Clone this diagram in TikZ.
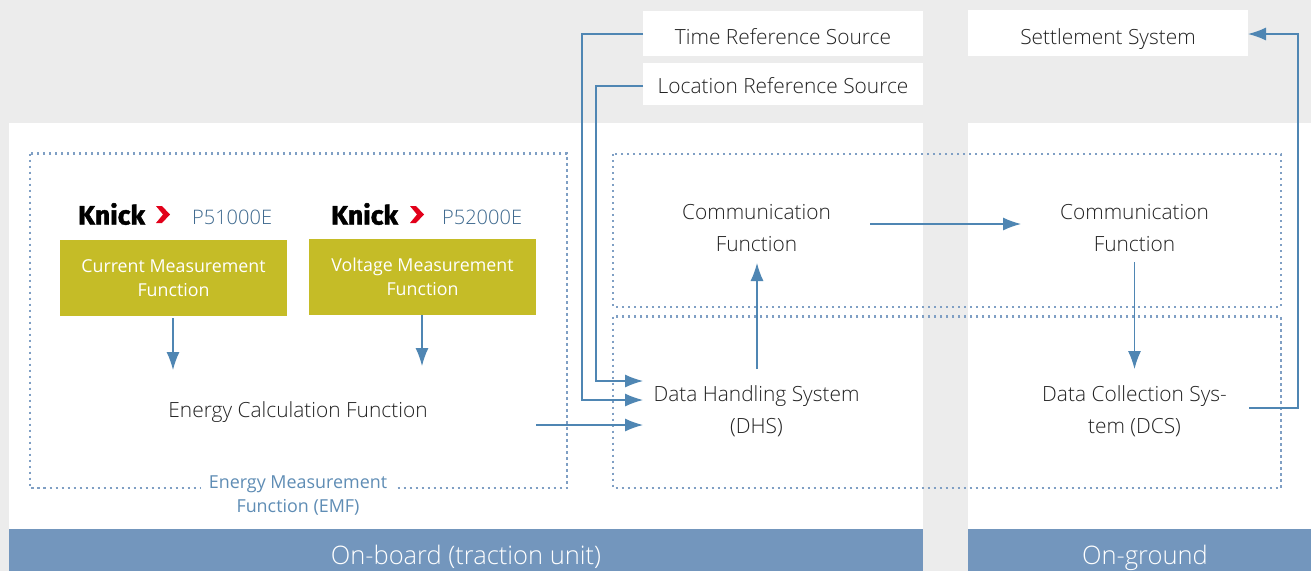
\documentclass[tikz,border=0pt]{standalone}
\usepackage{fontspec}
\setmainfont{Open Sans}[UprightFont=* Light,BoldFont=* Bold]
\newfontfamily\regfont{Open Sans}
\newfontfamily\logofont{Fira Sans Bold}[FakeBold=1.6]
\usetikzlibrary{arrows.meta}
\definecolor{bgc}{HTML}{ECECEC}
\definecolor{barc}{HTML}{7396BD}
\definecolor{linec}{HTML}{4F86B3}
\definecolor{dotc}{HTML}{7F9FC4}
\definecolor{yel}{HTML}{C5BC27}
\definecolor{ink}{HTML}{222222}
\definecolor{labelc}{HTML}{5F8DB5}
\definecolor{pnc}{HTML}{3F6A8F}
\definecolor{logored}{HTML}{E2001A}
\newcommand{\lowered}[2]{\raisebox{-#1pt}[0pt][0pt]{#2}}
\tikzset{
  x=1pt,y=-1pt,
  whitebox/.style={fill=white,anchor=north west,inner sep=0pt,outer sep=0pt},
  topbox/.style={whitebox,minimum width=280pt,text=ink,font=\fontsize{20.9}{24}\selectfont},
  yellowbox/.style={fill=yel,text=white,anchor=north west,inner sep=0pt,outer sep=0pt,minimum width=227pt,minimum height=76pt,align=center,font=\fontsize{17.8}{24}\selectfont\regfont},
  barbox/.style={fill=barc,text=white,anchor=north west,inner sep=0pt,outer sep=0pt,minimum height=42pt,font=\fontsize{25.5}{30}\selectfont},
  label/.style={text=ink,align=center,inner sep=0pt,font=\fontsize{20.9}{32}\selectfont},
  dotbox/.style={draw=dotc,line width=2.6pt,dash pattern=on 2.4pt off 3.6pt},
  conn/.style={draw=linec,line width=1.2pt,-{Latex[length=18pt,width=13pt]}},
  pn/.style={text=pnc,inner sep=0pt,font=\fontsize{20}{22}\selectfont},
  logo/.style={text=black,inner sep=0pt,font=\fontsize{26.5}{28}\logofont},
}
\begin{document}
\begin{tikzpicture}
\useasboundingbox (0,0) rectangle (1311,571);
\fill[bgc] (0,0) rectangle (1311,571);
% panels
\node[whitebox,minimum width=914pt,minimum height=406pt] (onpanel) at (9,123) {};
\node[whitebox,minimum width=343pt,minimum height=406pt] (gndpanel) at (968,123) {};
\node[barbox,minimum width=914pt] (onbar) at (9,529) {\lowered{14}{On-board (traction unit)}};
\node[barbox,minimum width=343pt] (gndbar) at (968,529) {\hspace*{11pt}\lowered{14}{On-ground}};
% top boxes
\node[topbox,minimum height=45pt] (time) at (643,11) {\lowered{10.5}{Time Reference Source}};
\node[topbox,minimum height=42pt] (loc) at (643,63) {\lowered{9}{Location Reference Source}};
\node[topbox,minimum height=46pt] (settle) at (968,10) {\lowered{11}{Settlement System}};
% dotted frames
\draw[dotbox] (30,153.5) rectangle (567,488);
\draw[dotbox] (613,154) rectangle (1281,307);
\draw[dotbox] (613,316.5) rectangle (1281,488);
\node[fill=white,inner sep=0pt,minimum width=194pt,minimum height=6pt] (gap) at (298,488) {};
\node[text=labelc,align=center,inner sep=0pt,font=\fontsize{17.9}{24}\selectfont\regfont] (emf) at (298,496) {Energy Measurement\\Function (EMF)};
% logos
\node[logo,anchor=west] (k1) at (78,214) {Knick};
\node[logo,anchor=west] (k2) at (331,214) {Knick};
\fill[logored] (156,206) -- (162,206) -- (170,214.5) -- (162,223) -- (156,223) -- (163,214.5) -- cycle;
\fill[logored] (410,206) -- (416,206) -- (424,214.5) -- (416,223) -- (410,223) -- (417,214.5) -- cycle;
\node[pn,anchor=west] (p1) at (192,217) {P51000E};
\node[pn,anchor=west] (p2) at (442,217) {P52000E};
% yellow
\node[yellowbox] (cur) at (60,240) {Current Measurement\\Function};
\node[yellowbox] (vol) at (309,239) {Voltage Measurement\\Function};
% text nodes
\node[label] (energy) at (298,412) {Energy Calculation Function};
\node[label] (c1) at (756.5,228) {Communication\\Function};
\node[label] (c2) at (1134.5,228) {Communication\\Function};
\node[label] (dhs) at (756.5,411) {Data Handling System\\(DHS)};
\node[label] (dcs) at (1134.5,411) {Data Collection Sys-\\tem (DCS)};
% connector ends
\coordinate (a0) at (173,318);
\coordinate (a1) at (173,370);
\coordinate (v0) at (422,315);
\coordinate (a2) at (422,366);
\coordinate (b0) at (536,425);
\coordinate (b1) at (643,425);
\coordinate (d1) at (643,400);
\coordinate (d2) at (643,381);
\coordinate (e0) at (757,369);
\coordinate (e1) at (757,263);
\coordinate (f0) at (870,224);
\coordinate (f1) at (1021,224);
\coordinate (g0) at (1134.5,262);
\coordinate (g1) at (1134.5,369);
\coordinate (h0) at (1249,408);
\coordinate (h1) at (1298,408);
\coordinate (h2) at (1298,34);
\coordinate (t0) at (582,34);
\coordinate (l0) at (596,86);
% connectors
\draw[conn] (a0) -- (a1);
\draw[conn] (v0) -- (a2);
\draw[conn] (b0) -- (b1);
\draw[conn] (time.west |- t0) -- (t0) |- (d1);
\draw[conn] (loc.west |- l0) -- (l0) |- (d2);
\draw[conn] (e0) -- (e1);
\draw[conn] (f0) -- (f1);
\draw[conn] (g0) -- (g1);
\draw[conn] (h0) -- (h1) -- (h2) -- (settle.east |- h2);
\end{tikzpicture}
\end{document}
